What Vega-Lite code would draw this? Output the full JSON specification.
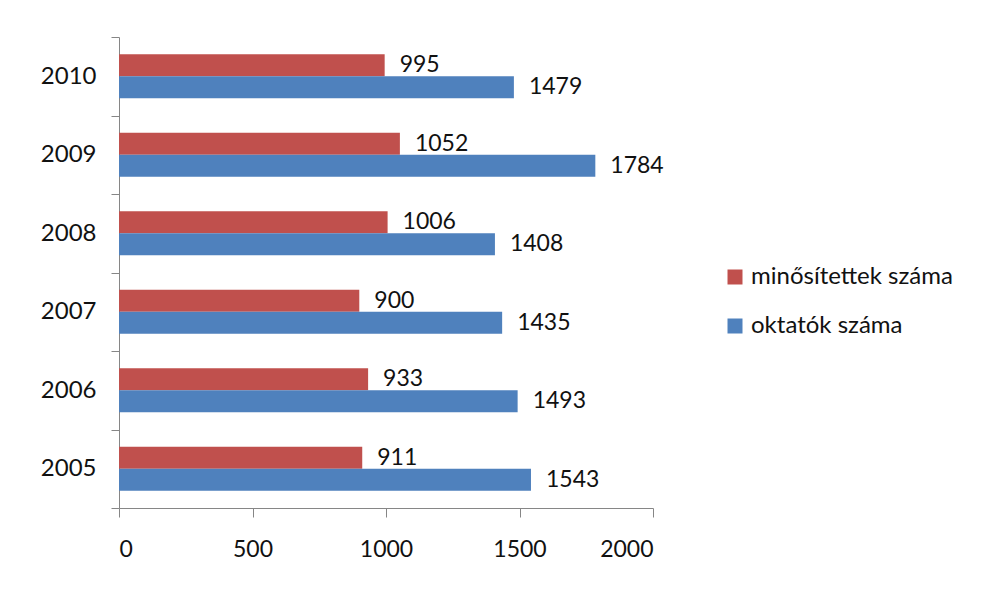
{
  "$schema": "https://vega.github.io/schema/vega-lite/v6.json",
  "width": 534,
  "height": 471,
  "autosize": {"type": "none"},
  "padding": {"left": 119, "top": 37, "right": 328, "bottom": 83},
  "background": "white",
  "data": {
    "values": [
      {"year": "2010", "series": "minősítettek száma", "value": 995},
      {"year": "2010", "series": "oktatók száma", "value": 1479},
      {"year": "2009", "series": "minősítettek száma", "value": 1052},
      {"year": "2009", "series": "oktatók száma", "value": 1784},
      {"year": "2008", "series": "minősítettek száma", "value": 1006},
      {"year": "2008", "series": "oktatók száma", "value": 1408},
      {"year": "2007", "series": "minősítettek száma", "value": 900},
      {"year": "2007", "series": "oktatók száma", "value": 1435},
      {"year": "2006", "series": "minősítettek száma", "value": 933},
      {"year": "2006", "series": "oktatók száma", "value": 1493},
      {"year": "2005", "series": "minősítettek száma", "value": 911},
      {"year": "2005", "series": "oktatók száma", "value": 1543}
    ]
  },
  "encoding": {
    "y": {
      "field": "year",
      "type": "ordinal",
      "sort": "descending",
      "scale": {"paddingInner": 0, "paddingOuter": 0},
      "axis": {
        "title": null,
        "tickBand": "extent",
        "tickSize": 8,
        "tickColor": "#868686",
        "domainColor": "#868686",
        "labelPadding": 15,
        "labelFont": "Lato",
        "labelFontSize": 24,
        "labelColor": "#111111"
      }
    },
    "yOffset": {
      "field": "series",
      "type": "nominal",
      "scale": {"domain": ["minősítettek száma", "oktatók száma"], "paddingInner": 0, "paddingOuter": 0.78}
    },
    "x": {
      "field": "value",
      "type": "quantitative",
      "scale": {"domain": [0, 2000]},
      "axis": {
        "title": null,
        "values": [0, 500, 1000, 1500, 2000],
        "format": "d",
        "grid": false,
        "tickSize": 9,
        "tickColor": "#868686",
        "domainColor": "#868686",
        "labelPadding": 21,
        "labelFont": "Lato",
        "labelFontSize": 23,
        "labelColor": "#111111"
      }
    }
  },
  "layer": [
    {
      "mark": {"type": "bar"},
      "encoding": {
        "color": {
          "field": "series",
          "type": "nominal",
          "scale": {"domain": ["minősítettek száma", "oktatók száma"], "range": ["#C0504D", "#4F81BD"]},
          "legend": {
            "title": null,
            "orient": "none",
            "legendX": 604,
            "legendY": 228,
            "symbolType": "square",
            "symbolSize": 225,
            "symbolStrokeWidth": 0,
            "labelFont": "Lato",
            "labelFontSize": 24,
            "labelColor": "#111111",
            "labelOffset": 4,
            "labelLimit": 400,
            "rowPadding": 25
          }
        }
      }
    },
    {
      "mark": {"type": "text", "align": "left", "baseline": "middle", "dx": 15, "font": "Lato", "fontSize": 23, "color": "#111111"},
      "encoding": {
        "text": {"field": "value", "type": "quantitative", "format": "d"}
      }
    }
  ],
  "config": {"view": {"stroke": null}}
}
